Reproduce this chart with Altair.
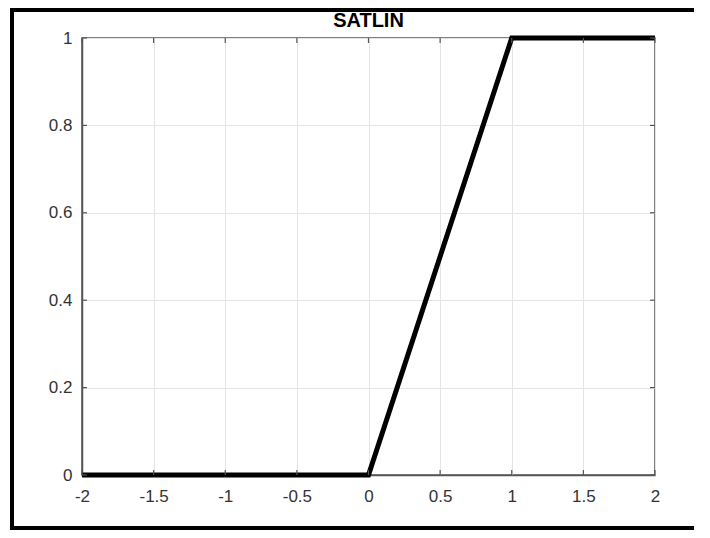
import altair as alt
import pandas as pd

# data
x_vals = [-2, 0, 1, 2]
y_vals = [0, 0, 1, 1]
x_ticks = [-2, -1.5, -1, -0.5, 0, 0.5, 1, 1.5, 2]
y_ticks = [0, 0.2, 0.4, 0.6, 0.8, 1]
title_text = "SATLIN"

W, H = 573, 437
AX = "#555555"
FONT = "Liberation Sans"

line_df = pd.DataFrame({"x": x_vals, "y": y_vals})
xt_df = pd.DataFrame({"x": x_ticks})
yt_df = pd.DataFrame({"y": y_ticks})
one = pd.DataFrame({"t": [title_text]})

xscale = alt.Scale(domain=[-2, 2], nice=False, zero=False)
yscale = alt.Scale(domain=[0, 1], nice=False, zero=False)

xaxis = alt.Axis(values=x_ticks, title=None, grid=True, gridColor="#e4e4e4",
                 ticks=False, labelPadding=13, labelFlush=False, labelOverlap=False,
                 labelFont=FONT, labelFontSize=17, labelColor="#333333",
                 labelExpr="'' + datum.value", domainColor=AX, domainWidth=1.5)
yaxis = alt.Axis(values=y_ticks, title=None, grid=True, gridColor="#e4e4e4",
                 ticks=False, labelPadding=10, labelFlush=False, labelOverlap=False,
                 labelFont=FONT, labelFontSize=17, labelColor="#333333",
                 labelExpr="'' + datum.value", domainColor=AX, domainWidth=1.5)

line = alt.Chart(line_df).mark_line(color="black", strokeWidth=5, strokeJoin="miter").encode(
    x=alt.X("x:Q", scale=xscale, axis=xaxis),
    y=alt.Y("y:Q", scale=yscale, axis=yaxis),
)

tl = 5
xt_bottom = alt.Chart(xt_df).mark_rule(color=AX, strokeWidth=1.2).encode(
    x=alt.X("x:Q", scale=xscale), y=alt.value(H), y2=alt.value(H - tl))
xt_top = alt.Chart(xt_df).mark_rule(color=AX, strokeWidth=1.2).encode(
    x=alt.X("x:Q", scale=xscale), y=alt.value(0), y2=alt.value(tl))
yt_left = alt.Chart(yt_df).mark_rule(color=AX, strokeWidth=1.2).encode(
    y=alt.Y("y:Q", scale=yscale), x=alt.value(0), x2=alt.value(tl))
yt_right = alt.Chart(yt_df).mark_rule(color=AX, strokeWidth=1.2).encode(
    y=alt.Y("y:Q", scale=yscale), x=alt.value(W), x2=alt.value(W - tl))

title = alt.Chart(one).mark_text(font=FONT, fontSize=20, fontWeight="bold",
                                 color="black", baseline="alphabetic", align="center").encode(
    text="t:N", x=alt.value(W / 2), y=alt.value(-11))

border = dict(color="black", strokeWidth=4)
b_left = alt.Chart(one).mark_rule(**border).encode(
    x=alt.value(-70), y=alt.value(-30), y2=alt.value(492))
b_top = alt.Chart(one).mark_rule(**border).encode(
    x=alt.value(-72), x2=alt.value(W + 39), y=alt.value(-28))
b_bottom = alt.Chart(one).mark_rule(**border).encode(
    x=alt.value(-72), x2=alt.value(W + 39), y=alt.value(490))

chart = alt.layer(line, xt_bottom, xt_top, yt_left, yt_right, title,
                  b_left, b_top, b_bottom).properties(
    width=W, height=H,
    background="white",
    autosize="none",
    padding={"left": 74, "top": 30, "right": 39, "bottom": 55},
).configure_view(stroke=AX, strokeWidth=1.5)

chart.save("out.html", embed_options={"renderer": "svg", "actions": False})
